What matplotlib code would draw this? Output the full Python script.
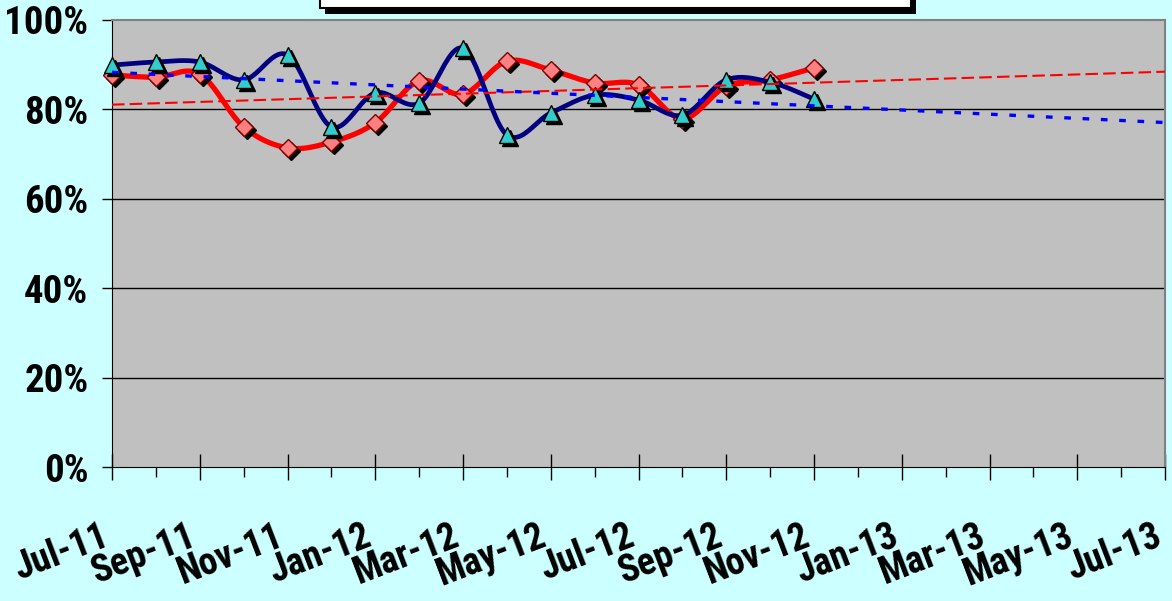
import numpy as np
import matplotlib
matplotlib.use("Agg")
import matplotlib.pyplot as plt
from matplotlib.patches import Rectangle
from matplotlib.transforms import offset_copy, ScaledTranslation

# monthly values, Jul-11 .. Nov-12 (percent)
months_idx = list(range(17))
blue_vals = [89.9, 90.6, 90.6, 86.6, 92.2, 76.1, 83.7, 81.4, 93.7,
             74.3, 79.2, 83.2, 82.1, 78.7, 86.6, 86.1, 82.3]
red_vals = [87.7, 87.2, 87.9, 76.1, 71.4, 72.7, 77.0, 86.4, 83.4,
            90.8, 88.8, 85.9, 85.5, 77.9, 85.2, 86.6, 89.3]
tick_labels = ['Jul-11', 'Sep-11', 'Nov-11', 'Jan-12', 'Mar-12', 'May-12', 'Jul-12',
               'Sep-12', 'Nov-12', 'Jan-13', 'Mar-13', 'May-13', 'Jul-13']
n_axis_months = 24

bg = '#CCFFFF'
plt.rcParams['font.family'] = ['Roboto Condensed', 'Archivo Narrow', 'IBM Plex Sans Condensed',
                               'Liberation Sans', 'DejaVu Sans']
plt.rcParams['font.weight'] = 'bold'


def smooth(x, y, n=25):
    # excel-like smoothed line (bezier through the points)
    x = np.asarray(x, float); y = np.asarray(y, float)
    px = np.concatenate([[x[0]], x, [x[-1]]])
    py = np.concatenate([[y[0]], y, [y[-1]]])
    xs, ys = [], []
    t = np.linspace(0, 1, n)
    for i in range(1, len(px) - 2):
        p0, p1, p2, p3 = [np.array([px[j], py[j]]) for j in (i - 1, i, i + 1, i + 2)]
        c1 = p1 + (p2 - p0) / 6.0
        c2 = p2 - (p3 - p1) / 6.0
        b = ((1 - t) ** 3)[:, None] * p1 + (3 * (1 - t) ** 2 * t)[:, None] * c1 \
            + (3 * (1 - t) * t ** 2)[:, None] * c2 + (t ** 3)[:, None] * p2
        xs.extend(b[:, 0]); ys.extend(b[:, 1])
    return np.array(xs), np.array(ys)


fig = plt.figure(figsize=(11.72, 6.01), dpi=100, facecolor=bg)
ax = fig.add_axes([112 / 1172, (601 - 467) / 601, (1165 - 112) / 1172, (467 - 20) / 601])
ax.set_facecolor('#C0C0C0')

for yv in [20, 40, 60, 80]:
    ax.axhline(yv, color='black', lw=1, zorder=1)

shadow = offset_copy(ax.transData, fig=fig, x=3, y=-3, units='dots')

# red series
sx, sy = smooth(months_idx, red_vals)
ax.plot(sx, sy, color='#FF0000', lw=3.8, zorder=3, solid_capstyle='round')
ax.plot(months_idx, red_vals, ls='none', marker='D', ms=9, color='black', transform=shadow,
        zorder=3.1, clip_on=False)
ax.plot(months_idx, red_vals, ls='none', marker='D', ms=9, mfc='#FF8080', mec='#800000', mew=1,
        zorder=3.2, clip_on=False)

# blue series
sx, sy = smooth(months_idx, blue_vals)
ax.plot(sx, sy, color='#000080', lw=3.4, zorder=4, solid_capstyle='round')
ax.plot(months_idx, blue_vals, ls='none', marker='^', ms=11, color='black', transform=shadow,
        zorder=4.1, clip_on=False)
ax.plot(months_idx, blue_vals, ls='none', marker='^', ms=11, mfc='#33CCCC', mec='black', mew=1,
        zorder=4.2, clip_on=False)

# linear trends extended to Jul-13
xt = np.array([0, n_axis_months])
cr = np.polyfit(months_idx, red_vals, 1)
cb = np.polyfit(months_idx, blue_vals, 1)
ax.plot(xt, np.polyval(cr, xt), color='#FF0000', lw=1.5, dashes=(6, 2.5), zorder=5)
ax.plot(xt, np.polyval(cb, xt), color='#0000FF', lw=2.4, dashes=(2, 3.5), zorder=5)

ax.set_xlim(0, n_axis_months)
ax.set_ylim(0, 100)
ax.tick_params(axis='x', which='major', direction='inout', length=19, width=1, pad=27)
ax.tick_params(axis='x', which='minor', direction='out', length=7, width=1)
ax.tick_params(axis='y', direction='out', length=7, width=1, pad=10)
ax.set_yticks([0, 20, 40, 60, 80, 100])
ax.set_yticklabels([f'{v}%' for v in range(0, 101, 20)], fontsize=28, fontweight='bold')
ax.set_xticks(range(0, n_axis_months + 1, 2))
ax.set_xticks(range(1, n_axis_months, 2), minor=True)
ax.set_xticklabels(tick_labels, fontsize=27, fontweight='bold', rotation=21,
                   ha='right', va='top', rotation_mode='anchor')
shift = ScaledTranslation(-12 / 100, 0, fig.dpi_scale_trans)
for lab in ax.get_xticklabels():
    lab.set_transform(lab.get_transform() + shift)

for s in ['top', 'right']:
    ax.spines[s].set_color('#808080')
    ax.spines[s].set_linewidth(1.5)
ax.spines['left'].set_color('black')
ax.spines['bottom'].set_color('black')

# legend box cut off at the top edge
W, H = 1172, 601
fig.patches.append(Rectangle((325 / W, (H - 14) / H), (916 - 325) / W, 30 / H,
                             transform=fig.transFigure, facecolor='black', edgecolor='none'))
fig.patches.append(Rectangle((320 / W, (H - 8) / H), (911 - 320) / W, 30 / H,
                             transform=fig.transFigure, facecolor='white', edgecolor='black', lw=1.5))

fig.savefig('out.png', dpi=100, facecolor=bg)
